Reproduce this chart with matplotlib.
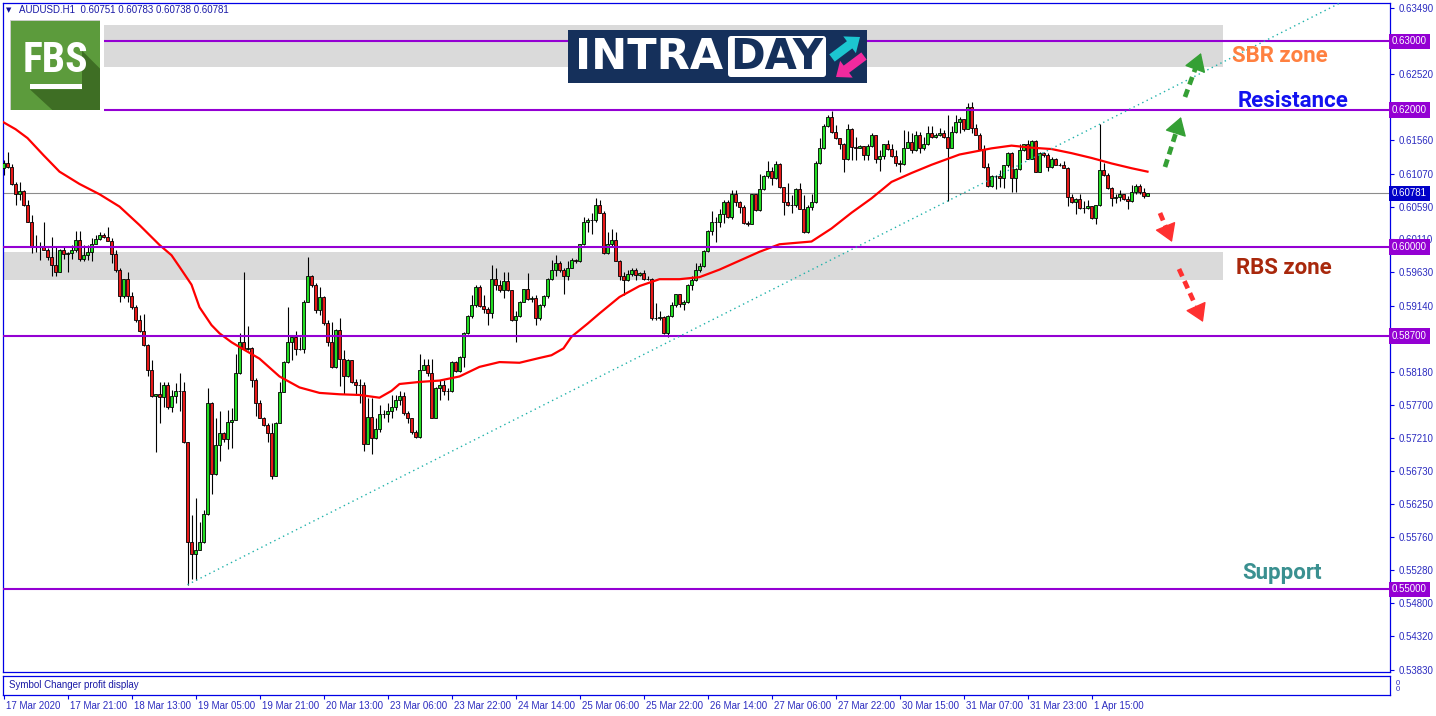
import numpy as np
import matplotlib
matplotlib.use('Agg')
import matplotlib.pyplot as plt
import matplotlib.transforms as mtransforms
from matplotlib.patches import Rectangle, Polygon, FancyBboxPatch, FancyArrow

plt.rcParams['font.family'] = ['Liberation Sans', 'DejaVu Sans']

# ---------------- data (AUDUSD H1) ----------------
symbol_header = "AUDUSD.H1  0.60751 0.60783 0.60738 0.60781"
first_open = 0.6116

closes = [
    0.6123, 0.6117, 0.6092, 0.6077, 0.6082, 0.6062, 0.6037, 0.6000, 0.6001, 0.6002,
    0.5996, 0.5986, 0.5974, 0.5964, 0.5996, 0.5990, 0.5991, 0.5996, 0.6010, 0.5983,
    0.5988, 0.5992, 0.6005, 0.6012, 0.6018, 0.6014, 0.6009, 0.5990, 0.5967, 0.5928,
    0.5953, 0.5928, 0.5912, 0.5893, 0.5878, 0.5857, 0.5820, 0.5783, 0.5785, 0.5781,
    0.5799, 0.5767, 0.5783, 0.5790, 0.5790, 0.5716, 0.5569, 0.5552, 0.5558, 0.5569,
    0.5610, 0.5772, 0.5668, 0.5711, 0.5728, 0.5719, 0.5745, 0.5748, 0.5816, 0.5862,
    0.5851, 0.5852, 0.5806, 0.5772, 0.5751, 0.5740, 0.5729, 0.5665, 0.5743, 0.5788,
    0.5832, 0.5861, 0.5868, 0.5851, 0.5851, 0.5920, 0.5958, 0.5944, 0.5908, 0.5927,
    0.5889, 0.5861, 0.5825, 0.5879, 0.5837, 0.5811, 0.5835, 0.5803, 0.5799, 0.5799,
    0.5713, 0.5752, 0.5721, 0.5735, 0.5756, 0.5756, 0.5760, 0.5767, 0.5776, 0.5783,
    0.5757, 0.5750, 0.5730, 0.5722, 0.5820, 0.5828, 0.5816, 0.5751, 0.5794, 0.5799,
    0.5790, 0.5790, 0.5832, 0.5819, 0.5840, 0.5874, 0.5899, 0.5915, 0.5941, 0.5914,
    0.5910, 0.5903, 0.5954, 0.5945, 0.5937, 0.5951, 0.5937, 0.5893, 0.5899, 0.5920,
    0.5938, 0.5924, 0.5925, 0.5896, 0.5915, 0.5929, 0.5953, 0.5966, 0.5976, 0.5966,
    0.5957, 0.5970, 0.5981, 0.5979, 0.6004, 0.6036, 0.6039, 0.6040, 0.6061, 0.6050,
    0.5991, 0.6005, 0.6010, 0.5980, 0.5957, 0.5952, 0.5961, 0.5967, 0.5959, 0.5962,
    0.5954, 0.5953, 0.5896, 0.5897, 0.5898, 0.5875, 0.5899, 0.5915, 0.5931, 0.5917,
    0.5919, 0.5944, 0.5952, 0.5967, 0.5972, 0.5994, 0.6024, 0.6036, 0.6037, 0.6048,
    0.6066, 0.6044, 0.6077, 0.6065, 0.6059, 0.6035, 0.6033, 0.6077, 0.6054, 0.6085,
    0.6104, 0.6111, 0.6100, 0.6121, 0.6087, 0.6066, 0.6061, 0.6061, 0.6084, 0.6056,
    0.6022, 0.6059, 0.6065, 0.6122, 0.6144, 0.6176, 0.6190, 0.6168, 0.6159, 0.6150,
    0.6128, 0.6172, 0.6146, 0.6145, 0.6148, 0.6135, 0.6147, 0.6163, 0.6128, 0.6133,
    0.6150, 0.6143, 0.6133, 0.6123, 0.6121, 0.6145, 0.6153, 0.6142, 0.6163, 0.6144,
    0.6150, 0.6167, 0.6160, 0.6164, 0.6167, 0.6160, 0.6145, 0.6168, 0.6183, 0.6187,
    0.6172, 0.6205, 0.6173, 0.6164, 0.6143, 0.6117, 0.6089, 0.6103, 0.6103, 0.6101,
    0.6119, 0.6137, 0.6100, 0.6114, 0.6142, 0.6150, 0.6129, 0.6155, 0.6110, 0.6137,
    0.6134, 0.6117, 0.6128, 0.6120, 0.6120, 0.6116, 0.6073, 0.6065, 0.6070, 0.6057,
    0.6057, 0.6060, 0.6042, 0.6061, 0.6112, 0.6105, 0.6086, 0.6071, 0.6073, 0.6077,
    0.6070, 0.6067, 0.6080, 0.6089, 0.6081, 0.6075, 0.60781,
]

highs = [
    0.6127, 0.6138, 0.6121, 0.6095, 0.6095, 0.6083, 0.6069, 0.6047, 0.6018, 0.6008,
    0.6036, 0.5999, 0.6015, 0.6000, 0.5997, 0.6000, 0.5992, 0.6003, 0.6024, 0.6024,
    0.6003, 0.6003, 0.6013, 0.6018, 0.6022, 0.6021, 0.6029, 0.6013, 0.5996, 0.5969,
    0.5954, 0.5963, 0.5935, 0.5915, 0.5901, 0.5902, 0.5859, 0.5835, 0.5786, 0.5803,
    0.5803, 0.5803, 0.5791, 0.5802, 0.5816, 0.5803, 0.5716, 0.5609, 0.5633, 0.5598,
    0.5616, 0.5794, 0.5773, 0.5750, 0.5760, 0.5730, 0.5762, 0.5765, 0.5844, 0.5874,
    0.5964, 0.5885, 0.5854, 0.5809, 0.5777, 0.5752, 0.5743, 0.5743, 0.5744, 0.5803,
    0.5833, 0.5913, 0.5868, 0.5877, 0.5869, 0.5923, 0.5985, 0.5959, 0.5947, 0.5942,
    0.5928, 0.5893, 0.5891, 0.5880, 0.5896, 0.5850, 0.5836, 0.5835, 0.5808, 0.5808,
    0.5803, 0.5779, 0.5779, 0.5750, 0.5769, 0.5762, 0.5772, 0.5784, 0.5784, 0.5790,
    0.5788, 0.5760, 0.5751, 0.5733, 0.5844, 0.5837, 0.5837, 0.5837, 0.5795, 0.5806,
    0.5806, 0.5794, 0.5833, 0.5833, 0.5841, 0.5876, 0.5901, 0.5930, 0.5945, 0.5945,
    0.5930, 0.5913, 0.5974, 0.5969, 0.5952, 0.5964, 0.5964, 0.5937, 0.5907, 0.5921,
    0.5939, 0.5962, 0.5929, 0.5930, 0.5917, 0.5930, 0.5955, 0.5981, 0.5988, 0.5979,
    0.5969, 0.5979, 0.5984, 0.5982, 0.6005, 0.6044, 0.6043, 0.6049, 0.6071, 0.6068,
    0.6052, 0.6022, 0.6026, 0.6022, 0.5981, 0.5964, 0.5967, 0.5969, 0.5969, 0.5964,
    0.5966, 0.5958, 0.5955, 0.5918, 0.5906, 0.5899, 0.5901, 0.5919, 0.5932, 0.5932,
    0.5923, 0.5946, 0.5957, 0.5976, 0.5976, 0.5996, 0.6025, 0.6052, 0.6044, 0.6055,
    0.6069, 0.6068, 0.6083, 0.6083, 0.6067, 0.6061, 0.6038, 0.6078, 0.6078, 0.6107,
    0.6105, 0.6125, 0.6117, 0.6125, 0.6122, 0.6088, 0.6093, 0.6076, 0.6086, 0.6093,
    0.6076, 0.6061, 0.6077, 0.6125, 0.6159, 0.6180, 0.6193, 0.6198, 0.6178, 0.6153,
    0.6152, 0.6180, 0.6173, 0.6161, 0.6149, 0.6146, 0.6151, 0.6166, 0.6164, 0.6142,
    0.6151, 0.6156, 0.6151, 0.6142, 0.6127, 0.6171, 0.6169, 0.6167, 0.6169, 0.6168,
    0.6161, 0.6176, 0.6176, 0.6166, 0.6173, 0.6171, 0.6193, 0.6176, 0.6192, 0.6190,
    0.6174, 0.6210, 0.6212, 0.6180, 0.6166, 0.6149, 0.6122, 0.6105, 0.6105, 0.6112,
    0.6120, 0.6139, 0.6138, 0.6116, 0.6150, 0.6151, 0.6156, 0.6156, 0.6156, 0.6139,
    0.6138, 0.6137, 0.6132, 0.6130, 0.6123, 0.6125, 0.6117, 0.6078, 0.6072, 0.6078,
    0.6067, 0.6069, 0.6060, 0.6062, 0.6180, 0.6122, 0.6108, 0.6087, 0.6077, 0.6083,
    0.6077, 0.6074, 0.6090, 0.6092, 0.6092, 0.6086, 0.60783,
]

lows = [
    0.6105, 0.6116, 0.6091, 0.6061, 0.6069, 0.6060, 0.6036, 0.5991, 0.5993, 0.5981,
    0.5995, 0.5981, 0.5957, 0.5957, 0.5963, 0.5983, 0.5963, 0.5983, 0.5993, 0.5980,
    0.5980, 0.5981, 0.5979, 0.6004, 0.6010, 0.6013, 0.6009, 0.5976, 0.5963, 0.5919,
    0.5926, 0.5920, 0.5910, 0.5891, 0.5876, 0.5856, 0.5812, 0.5781, 0.5700, 0.5743,
    0.5767, 0.5764, 0.5759, 0.5772, 0.5760, 0.5714, 0.5507, 0.5516, 0.5514, 0.5557,
    0.5568, 0.5609, 0.5639, 0.5667, 0.5688, 0.5716, 0.5705, 0.5706, 0.5748, 0.5815,
    0.5850, 0.5850, 0.5795, 0.5754, 0.5750, 0.5739, 0.5716, 0.5662, 0.5666, 0.5743,
    0.5788, 0.5831, 0.5835, 0.5842, 0.5850, 0.5845, 0.5919, 0.5942, 0.5903, 0.5901,
    0.5886, 0.5855, 0.5823, 0.5824, 0.5797, 0.5786, 0.5810, 0.5802, 0.5784, 0.5772,
    0.5702, 0.5712, 0.5698, 0.5719, 0.5730, 0.5750, 0.5745, 0.5750, 0.5762, 0.5770,
    0.5755, 0.5743, 0.5727, 0.5721, 0.5721, 0.5820, 0.5811, 0.5751, 0.5750, 0.5777,
    0.5784, 0.5776, 0.5788, 0.5818, 0.5818, 0.5825, 0.5873, 0.5897, 0.5913, 0.5912,
    0.5903, 0.5886, 0.5897, 0.5937, 0.5935, 0.5925, 0.5936, 0.5892, 0.5862, 0.5898,
    0.5919, 0.5923, 0.5920, 0.5886, 0.5894, 0.5913, 0.5926, 0.5952, 0.5957, 0.5964,
    0.5932, 0.5952, 0.5969, 0.5977, 0.5978, 0.6003, 0.6022, 0.6019, 0.6036, 0.6049,
    0.5990, 0.5990, 0.6000, 0.5979, 0.5952, 0.5930, 0.5951, 0.5957, 0.5952, 0.5957,
    0.5952, 0.5952, 0.5893, 0.5893, 0.5893, 0.5873, 0.5869, 0.5898, 0.5913, 0.5913,
    0.5908, 0.5918, 0.5937, 0.5951, 0.5964, 0.5971, 0.5993, 0.6018, 0.6008, 0.6029,
    0.6035, 0.6042, 0.6041, 0.6060, 0.6049, 0.6033, 0.6031, 0.6034, 0.6052, 0.6053,
    0.6083, 0.6100, 0.6090, 0.6099, 0.6086, 0.6046, 0.6060, 0.6049, 0.6059, 0.6055,
    0.6021, 0.6021, 0.6054, 0.6064, 0.6121, 0.6143, 0.6175, 0.6167, 0.6158, 0.6143,
    0.6110, 0.6127, 0.6127, 0.6127, 0.6144, 0.6127, 0.6127, 0.6146, 0.6122, 0.6111,
    0.6129, 0.6142, 0.6132, 0.6118, 0.6109, 0.6120, 0.6144, 0.6137, 0.6140, 0.6137,
    0.6142, 0.6149, 0.6159, 0.6159, 0.6162, 0.6159, 0.6067, 0.6144, 0.6167, 0.6166,
    0.6169, 0.6172, 0.6166, 0.6163, 0.6142, 0.6116, 0.6088, 0.6088, 0.6085, 0.6087,
    0.6086, 0.6117, 0.6080, 0.6080, 0.6112, 0.6140, 0.6128, 0.6129, 0.6109, 0.6110,
    0.6132, 0.6111, 0.6116, 0.6119, 0.6118, 0.6115, 0.6060, 0.6064, 0.6048, 0.6056,
    0.6049, 0.6056, 0.6041, 0.6033, 0.6060, 0.6104, 0.6085, 0.6060, 0.6064, 0.6067,
    0.6069, 0.6056, 0.6066, 0.6078, 0.6078, 0.6072, 0.60738,
]

# moving average (red line), read at selected bars
ma_bars = [0, 3, 6, 10, 14, 19, 24, 29, 34, 39, 42, 44, 47, 49, 52, 54, 57, 59, 64, 69,
           74, 79, 84, 89, 94, 97, 99, 104, 109, 114, 119, 124, 129, 134, 137, 140, 142,
           146, 149, 154, 159, 164, 169, 174, 179, 184, 189, 194, 202, 207, 212, 217,
           222, 227, 232, 239, 247, 252, 257, 262, 267, 272, 277, 282, 286]
ma_vals = [0.6182, 0.6172, 0.6159, 0.6134, 0.6110, 0.6092, 0.6077, 0.6059, 0.6032, 0.6003,
           0.5988, 0.5971, 0.5945, 0.5912, 0.5886, 0.5874, 0.5861, 0.5854, 0.5837, 0.5811,
           0.5795, 0.5787, 0.5785, 0.5784, 0.5780, 0.5790, 0.5800, 0.5803, 0.5805, 0.5811,
           0.5825, 0.5832, 0.5831, 0.5838, 0.5842, 0.5852, 0.5869, 0.5888, 0.5903, 0.5927,
           0.5943, 0.5953, 0.5953, 0.5956, 0.5967, 0.5980, 0.5993, 0.6004, 0.6008, 0.6027,
           0.6050, 0.6071, 0.6095, 0.6108, 0.6120, 0.6135, 0.6144, 0.6148, 0.6145, 0.6143,
           0.6137, 0.6130, 0.6122, 0.6115, 0.6110]

# horizontal levels and zones
level_prices = [0.6300, 0.6200, 0.6000, 0.5870, 0.5500]
level_start = [25.1, 25.1, -0.2, -0.2, -0.2]
sbr_zone = (0.62632, 0.63241)
rbs_zone = (0.59518, 0.59931)
sbr_x = (25.1, 304.8)
rbs_x = (-0.2, 304.8)
current_price = 0.60781

# trend line anchors (bar, price)
trend_a = (46, 0.5507)
trend_b = (236, 0.6067)

ytick_vals = [0.63490, 0.62520, 0.61560, 0.61070, 0.60590, 0.60110, 0.59630, 0.59140,
              0.58180, 0.57700, 0.57210, 0.56730, 0.56250, 0.55760, 0.55280, 0.54800,
              0.54320, 0.53830]
boxed_levels = [0.63000, 0.62000, 0.60000, 0.58700, 0.55000]

xtick_bars = [16 * k for k in range(18)]
xtick_labels = ["17 Mar 2020", "17 Mar 21:00", "18 Mar 13:00", "19 Mar 05:00",
                "19 Mar 21:00", "20 Mar 13:00", "23 Mar 06:00", "23 Mar 22:00",
                "24 Mar 14:00", "25 Mar 06:00", "25 Mar 22:00", "26 Mar 14:00",
                "27 Mar 06:00", "27 Mar 22:00", "30 Mar 15:00", "31 Mar 07:00",
                "31 Mar 23:00", "1 Apr 15:00"]

# ---------------- figure ----------------
W, H = 1436, 716
fig = plt.figure(figsize=(W / 100, H / 100), dpi=100)
fig.patch.set_facecolor('white')

FRAME = '#0000E6'
TXT = '#2C2CC0'
VIOLET = '#9400D3'

ax = fig.add_axes([3 / W, (H - 672) / H, 1387 / W, 669 / H])
ax.set_xlim(-0.125, 346.625)
ax.set_ylim(0.537956, 0.635620)
for s in ax.spines.values():
    s.set_color(FRAME)
    s.set_linewidth(0.9)

closes = np.array(closes)
highs = np.array(highs)
lows = np.array(lows)
opens = np.r_[first_open, closes[:-1]]
idx = np.arange(len(closes))
hi = np.maximum(highs, np.maximum(opens, closes))
lo = np.minimum(lows, np.minimum(opens, closes))

# zones
for (z0, z1), (x0, x1) in ((sbr_zone, sbr_x), (rbs_zone, rbs_x)):
    ax.add_patch(Rectangle((x0, z0), x1 - x0, z1 - z0, fc='#DADADA', ec='none',
                           zorder=0.5))

ax.axhline(current_price, color='#8C8C8C', lw=0.8, zorder=1)

# candles
ax.vlines(idx, lo, hi, color='black', lw=0.8, zorder=2)
up = closes >= opens
bottom = np.minimum(opens, closes)
height = np.abs(closes - opens)
ax.bar(idx[up], height[up], bottom=bottom[up], width=0.68, color='#22DD22',
       edgecolor='black', linewidth=0.6, zorder=3)
ax.bar(idx[~up], height[~up], bottom=bottom[~up], width=0.68, color='#E81818',
       edgecolor='black', linewidth=0.6, zorder=3)

# moving average
ax.plot(ma_bars, ma_vals, color='#FF0000', lw=1.6, zorder=4)

# levels
for p, xs in zip(level_prices, level_start):
    ax.hlines(p, xs, 346.625, color=VIOLET, lw=1.5, zorder=5)

# trend line
slope = (trend_b[1] - trend_a[1]) / (trend_b[0] - trend_a[0])
x_end = 346.625
ax.plot([trend_a[0], x_end], [trend_a[1], trend_a[1] + slope * (x_end - trend_a[0])],
        color='#20B2AA', lw=1.0, linestyle=(0, (1, 2.5)), zorder=5)

# right axis ticks
ax.yaxis.tick_right()
ax.set_yticks(ytick_vals + boxed_levels + [current_price])
ax.set_yticklabels(['%.5f' % v for v in ytick_vals] + [''] * (len(boxed_levels) + 1))
ax.tick_params(axis='y', direction='out', length=3, width=0.8, color=FRAME,
               labelsize=7, labelcolor=TXT, pad=3)
ax.set_xticks([])

ytr = ax.get_yaxis_transform()
for p in boxed_levels:
    ax.text(1.0015, p, '%.5f' % p, transform=ytr, ha='left', va='center', fontsize=7,
            color='white', zorder=10, clip_on=False,
            bbox=dict(boxstyle='square,pad=0.3', fc=VIOLET, ec='none'))
ax.text(1.0015, current_price, '%.5f' % current_price, transform=ytr, ha='left',
        va='center', fontsize=7, color='white', zorder=10, clip_on=False,
        bbox=dict(boxstyle='square,pad=0.3', fc='#0000C8', ec='none'))

# header
ax.text(0.0025, 0.9895, '\u25BC', transform=ax.transAxes, ha='left', va='center',
        fontsize=5, color='#10109A', family=['DejaVu Sans'])
ax.text(0.0115, 0.9895, symbol_header, transform=ax.transAxes, ha='left', va='center',
        fontsize=7, color='#1A1AA6')

# zone labels
def px2bar(px):
    return (px - 3.5) / 4.0

def py2price(py):
    return 0.62 - (py - 110) / 6850.0

lab_kw = dict(family=['Roboto', 'DejaVu Sans'], weight='bold', fontsize=16,
              ha='center', va='center', zorder=8)
ax.text(px2bar(1280), py2price(56), 'SBR zone', color='#FF8040', **lab_kw)
ax.text(px2bar(1293), py2price(101), 'Resistance', color='#1212F0', **lab_kw)
ax.text(px2bar(1284), py2price(268), 'RBS zone', color='#A8280C', **lab_kw)
ax.text(px2bar(1282), py2price(573), 'Support', color='#3A9090', **lab_kw)

# dashed scenario arrows
def dashed_arrow(p0, p1, color):
    x0, y0 = px2bar(p0[0]), py2price(p0[1])
    x1, y1 = px2bar(p1[0]), py2price(p1[1])
    f = 0.66
    ax.plot([x0, x0 + (x1 - x0) * f], [y0, y0 + (y1 - y0) * f], color=color, lw=3.4,
            linestyle=(0, (1.7, 1.1)), solid_capstyle='butt', zorder=7)
    ax.annotate('', xy=(x1, y1), xytext=(x0 + (x1 - x0) * 0.7, y0 + (y1 - y0) * 0.7),
                arrowprops=dict(arrowstyle='-|>,head_length=0.8,head_width=0.5',
                                color=color, lw=1.0, mutation_scale=14,
                                shrinkA=0, shrinkB=0), zorder=7)

dashed_arrow((1165, 167), (1181, 117), '#35A035')
dashed_arrow((1185, 97), (1201, 53), '#35A035')
dashed_arrow((1160, 213), (1172, 242), '#FF3030')
dashed_arrow((1179, 269), (1203, 322), '#FF3030')

# ---------------- sub window ----------------
ax2 = fig.add_axes([3 / W, (H - 695) / H, 1387 / W, 19 / H])
ax2.set_xlim(ax.get_xlim())
ax2.set_ylim(0, 1)
for s in ax2.spines.values():
    s.set_color(FRAME)
    s.set_linewidth(0.9)
ax2.set_yticks([])
ax2.text(0.004, 0.5, 'Symbol Changer profit display', transform=ax2.transAxes,
         ha='left', va='center', fontsize=7, color='#1A1AA6')
ax2.text(1.004, 0.62, '0', transform=ax2.transAxes, ha='left', va='center',
         fontsize=5.5, color=TXT)
ax2.text(1.004, 0.3, '0', transform=ax2.transAxes, ha='left', va='center',
         fontsize=5.5, color=TXT)
ax2.set_xticks(xtick_bars)
ax2.set_xticklabels(xtick_labels)
ax2.tick_params(axis='x', direction='out', length=3, width=0.8, color=FRAME,
                labelsize=7, labelcolor=TXT, pad=1)
shift = mtransforms.ScaledTranslation(1.5 / 72, 0, fig.dpi_scale_trans)
for lbl in ax2.get_xticklabels():
    lbl.set_ha('left')
    lbl.set_transform(lbl.get_transform() + shift)

# ---------------- FBS logo ----------------
lg = fig.add_axes([10 / W, 1 - 110 / H, 90 / W, 90 / H])
lg.set_xlim(0, 1)
lg.set_ylim(0, 1)
lg.axis('off')
lg.add_patch(Rectangle((0, 0), 1, 1, fc='#5C9B3C', ec='#D0D0D0', lw=0.6))
lg.add_patch(Polygon([(0.22, 0.23), (0.80, 0.23), (0.80, 0.66), (1.0, 0.46),
                      (1.0, 0.0), (0.47, 0.0)], closed=True, fc='#3E6E24', ec='none'))
lg.text(0.51, 0.545, 'FBS', ha='center', va='center', color='white', weight='bold',
        fontsize=30, family=['Liberation Sans Narrow', 'Roboto Condensed', 'Roboto'])
lg.add_patch(Rectangle((0.22, 0.235), 0.58, 0.055, fc='white', ec='none'))

# ---------------- INTRADAY logo ----------------
il = fig.add_axes([568 / W, 1 - 83 / H, 299 / W, 53 / H])
il.set_xlim(0, 299)
il.set_ylim(53, 0)
il.axis('off')
il.add_patch(Rectangle((0, 0), 299, 53, fc='#15305B', ec='none'))
il.add_patch(FancyBboxPatch((160, 6), 98, 41, boxstyle='round,pad=0,rounding_size=3',
                            fc='white', ec='none'))
il.text(7, 27, 'INTRA', ha='left', va='center', color='white', weight='bold',
        fontsize=31, family=['DejaVu Sans'])
il.text(209, 27, 'DAY', ha='center', va='center', color='#15305B', weight='bold',
        fontsize=30, family=['DejaVu Sans'])
il.add_patch(FancyArrow(264, 28, 28, -21, width=9, head_width=21, head_length=13,
                        length_includes_head=True, fc='#1CC6D0', ec='none'))
il.add_patch(FancyArrow(296, 26, -28, 21, width=9, head_width=21, head_length=13,
                        length_includes_head=True, fc='#F22A9E', ec='none'))

fig.savefig('out.png', dpi=100, facecolor='white')
